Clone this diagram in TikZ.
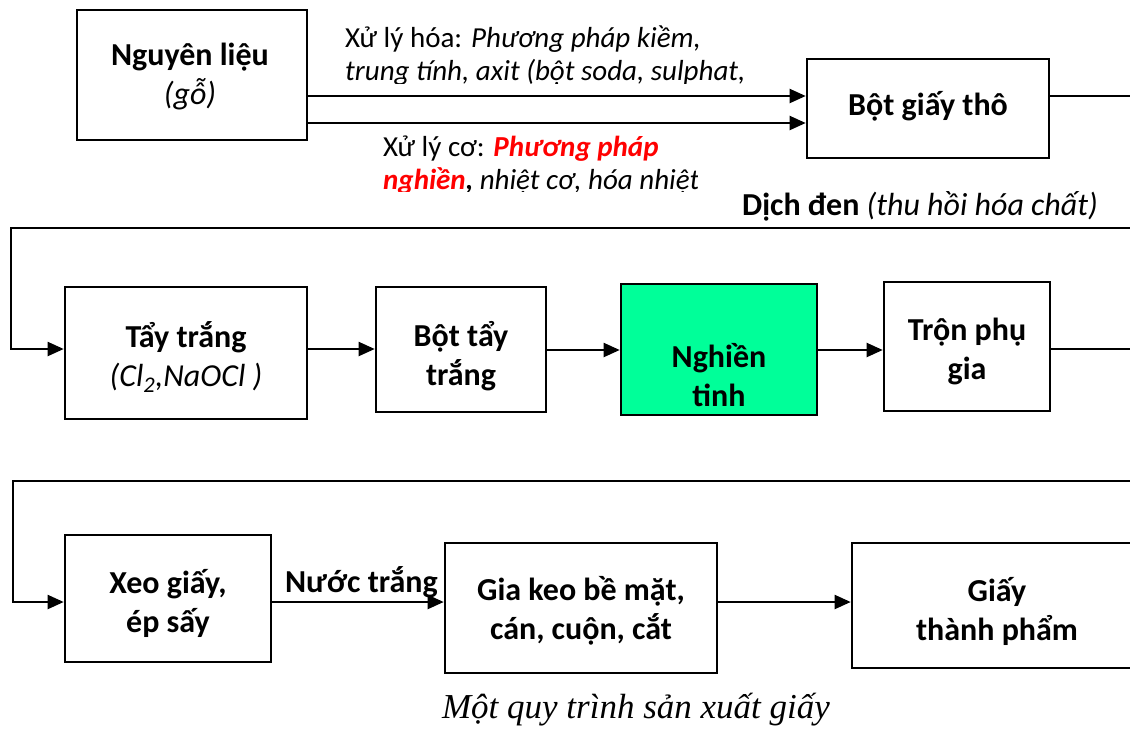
\documentclass[tikz,border=0pt]{standalone}
\usepackage{fontspec}
\setmainfont{Carlito}
\newfontfamily\capfont{Liberation Serif}
\usetikzlibrary{arrows.meta}
\definecolor{mint}{RGB}{0,255,153}
\definecolor{hotred}{RGB}{255,0,0}

\begin{document}
\begin{tikzpicture}[x=1pt,y=-1pt,
  box/.style={draw,line width=2.6pt,inner sep=0pt},
  btext/.style={font=\fontsize{32}{39}\selectfont\bfseries,align=center,inner sep=0pt},
  flow/.style={line width=2pt,-{Triangle[length=16pt,width=14pt]}},
  link/.style={line width=2pt},
  lbl/.style={font=\fontsize{29}{33}\selectfont,align=left,inner sep=0pt,anchor=north west}]
\useasboundingbox (0,0) rectangle (1130,732);
\clip (0,0) rectangle (1130,732);
\fill[white] (0,0) rectangle (1130,732);

% ---- row 1 ----
\node[box,minimum width=230pt,minimum height=130pt] (raw) at (192,75) {};
\node[btext] (rawt) at (190,77) {Nguyên liệu\\{\mdseries\itshape (gỗ)}};
\node[box,minimum width=242pt,minimum height=99pt] (pulp) at (928,108.5) {};
\node[btext] (pulpt) at (928,106) {Bột giấy thô};

\draw[flow] (raw.east |- 0,96) -- (pulp.west |- 0,96);
\draw[flow] (raw.east |- 0,123) -- (pulp.west |- 0,123);

\begin{scope}
  \clip (340,15) rectangle (790,83);
  \node[lbl] (chem) at (345,26) {Xử lý hóa: \textit{Phương pháp kiềm,}\\\textit{trung tính, axit (bột soda, sulphat,}};
\end{scope}
\begin{scope}
  \clip (378,125) rectangle (697,191);
  \node[lbl] (mech) at (383,136) {Xử lý cơ: \textcolor{hotred}{\textbf{\textit{Phương pháp}}}\\\textcolor{hotred}{\textbf{\textit{nghiền}}}\textbf{\textit{,}} \textit{nhiệt cơ, hóa nhiệt}};
\end{scope}

% return line to row 2
\coordinate (e1) at (1140,96);
\coordinate (r1) at (1140,228);
\coordinate (l1) at (11,228);
\draw[link] (pulp.east |- e1) -- (e1);
\node[font=\fontsize{32}{38}\selectfont,anchor=base] (black) at (920,215) {\textbf{Dịch đen} \textit{(thu hồi hóa chất)}};

% ---- row 2 ----
\node[box,minimum width=242pt,minimum height=132pt] (bleach) at (186,353) {};
\node[btext] (bleacht) at (186,357) {Tẩy trắng\\{\mdseries\itshape (Cl\textsubscript{2},NaOCl )}};
\node[box,minimum width=170pt,minimum height=125pt] (bpulp) at (461,349.5) {};
\node[btext] (bpulpt) at (461,356) {Bột tẩy\\trắng};
\node[box,fill=mint,minimum width=196pt,minimum height=131pt] (refine) at (719,349.5) {};
\node[btext] (refinet) at (719,375) {Nghiền\\tinh};
\node[box,minimum width=166pt,minimum height=129pt] (mix) at (967,346.5) {};
\node[btext] (mixt) at (967,351) {Trộn phụ\\gia};

\draw[flow] (r1) -- (l1) -- (l1 |- 0,349) -- (bleach.west |- 0,349);
\draw[flow] (bleach.east |- 0,349) -- (bpulp.west |- 0,349);
\draw[flow] (bpulp.east |- 0,350) -- (refine.west |- 0,350);
\draw[flow] (refine.east |- 0,350) -- (mix.west |- 0,350);

\coordinate (e2) at (1140,349);
\coordinate (r2) at (1140,481);
\coordinate (l2) at (13,481);
\draw[link] (mix.east |- e2) -- (e2);

% ---- row 3 ----
\node[box,minimum width=206pt,minimum height=127pt] (xeo) at (168,598.5) {};
\node[btext] (xeot) at (168,603.5) {Xeo giấy,\\ép sấy};
\node[box,minimum width=272pt,minimum height=130pt] (keo) at (581,608) {};
\node[btext] (keot) at (581,611) {Gia keo bề mặt,\\cán, cuộn, cắt};
\node[box,minimum width=290pt,minimum height=125pt] (final) at (997,605.5) {};
\node[btext] (finalt) at (997,611) {Giấy\\thành phẩm};

\draw[flow] (r2) -- (l2) -- (l2 |- 0,602) -- (xeo.west |- 0,602);
\draw[flow] (xeo.east |- 0,602) -- node[pos=0.52,above=3pt,font=\fontsize{32}{38}\selectfont\bfseries,inner sep=0pt] (white) {Nước trắng} (keo.west |- 0,602);
\draw[flow] (keo.east |- 0,602) -- (final.west |- 0,602);

% caption
\node[font=\capfont\itshape\fontsize{35}{40}\selectfont,inner sep=0pt] (cap) at (636,710) {Một quy trình sản xuất giấy};
\end{tikzpicture}
\end{document}
